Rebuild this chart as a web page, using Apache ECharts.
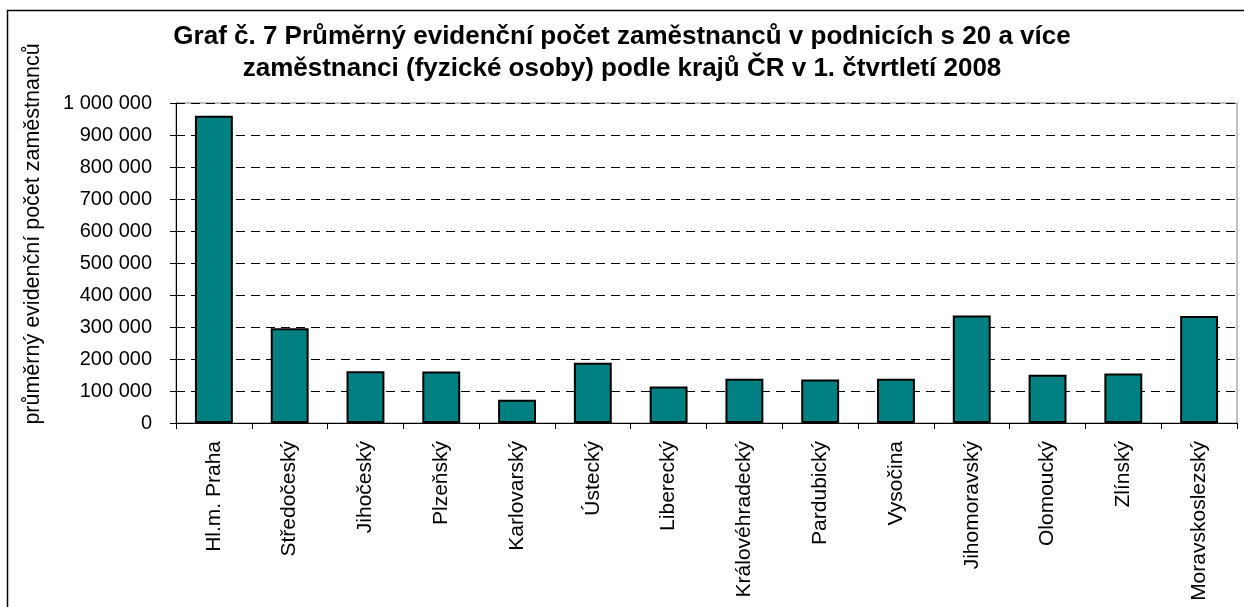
<!DOCTYPE html>
<html>
<head>
<meta charset="utf-8">
<script src="https://cdn.jsdelivr.net/npm/echarts@6/dist/echarts.min.js"></script>
<style>
  html, body { margin: 0; padding: 0; background: #fff; }
  #chart { width: 1244px; height: 607px; }
</style>
</head>
<body>
<div id="chart"></div>
<script>
// kraje ČR
const regions = [
    'Hl.m. Praha', 'Středočeský', 'Jihočeský', 'Plzeňský', 'Karlovarský',
    'Ústecký', 'Liberecký', 'Královéhradecký', 'Pardubický', 'Vysočina',
    'Jihomoravský', 'Olomoucký', 'Zlínský', 'Moravskoslezský'
];
// průměrný evidenční počet zaměstnanců
const employees = [
    960000, 296000, 162000, 161000, 73000,
    188000, 114000, 138000, 136000, 138000,
    336000, 151000, 155000, 334000
];
const yMin = 0;
const yMax = 1000000;
const yStep = 100000;

const titleText = 'Graf č. 7 Průměrný evidenční počet zaměstnanců v podnicích s 20 a více\nzaměstnanci (fyzické osoby) podle krajů ČR v 1. čtvrtletí 2008';
const yName = 'průměrný evidenční počet zaměstnanců';

const font = '"Liberation Sans", Arial, sans-serif';

function fmt(v) {
    return String(v).replace(/\B(?=(\d{3})+(?!\d))/g, ' ');
}

const chart = echarts.init(document.getElementById('chart'));
chart.setOption({
    animation: false,
    textStyle: { fontFamily: font },
    title: {
        text: titleText,
        left: 'center',
        top: 16,
        textStyle: {
            fontFamily: font,
            fontSize: 26,
            fontWeight: 'bold',
            color: '#000',
            lineHeight: 32
        }
    },
    graphic: [
        {
            type: 'rect',
            shape: { x: 7.5, y: 10.5, width: 1260, height: 700 },
            style: { fill: 'none', stroke: '#000', lineWidth: 1.5 },
            silent: true
        },
        {
            type: 'text',
            x: 33,
            y: 234,
            rotation: Math.PI / 2,
            style: {
                text: yName,
                fontFamily: font,
                fontSize: 21.5,
                fill: '#000',
                align: 'center',
                verticalAlign: 'middle'
            },
            silent: true
        }
    ],
    grid: {
        left: 176,
        right: 7,
        top: 103,
        bottom: 184,
        show: true,
        borderColor: '#808080',
        borderWidth: 1,
        containLabel: false
    },
    xAxis: {
        type: 'category',
        data: regions,
        axisLine: { lineStyle: { color: '#000', width: 1 } },
        axisTick: { show: true, length: 6, lineStyle: { color: '#000' } },
        axisLabel: {
            rotate: 90,
            margin: 18,
            interval: 0,
            fontSize: 21,
            color: '#000',
            fontFamily: font
        }
    },
    yAxis: {
        type: 'value',
        min: yMin,
        max: yMax,
        interval: yStep,
        axisLine: { show: true, lineStyle: { color: '#000', width: 1 } },
        axisTick: { show: true, length: 6, lineStyle: { color: '#000' } },
        axisLabel: {
            formatter: fmt,
            margin: 24,
            fontSize: 20,
            color: '#000',
            fontFamily: font
        },
        splitLine: {
            show: true,
            lineStyle: { color: '#000', type: [9, 6], width: 1 }
        }
    },
    series: [{
        type: 'bar',
        data: employees,
        barWidth: '50%',
        itemStyle: {
            color: '#008080',
            borderColor: '#000',
            borderWidth: 2
        }
    }]
});
</script>
</body>
</html>
